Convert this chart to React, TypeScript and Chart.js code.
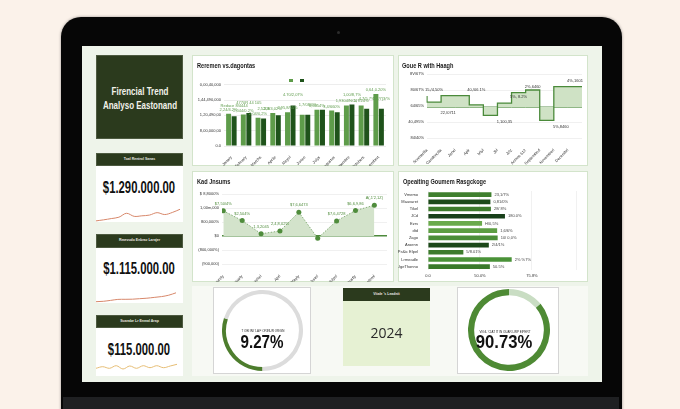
import React, { useEffect, useRef } from "react";
import { Chart, registerables } from "chart.js";

Chart.register(...registerables);

const FONT = "'Liberation Sans', Arial, sans-serif";
Chart.defaults.font.family = FONT;

// ---------- Revenue vs expenses (grouped bars)
const barCats = ["Janary", "Febuary", "Marchs", "Aprile", "Mayol", "Junee", "Julys", "Augustus", "Septembre", "Octobers", "Novembert"];
const revenueVals = [2.11, 2.06, 1.85, 2.15, 2.21, 2.04, 2.37, 2.32, 2.65, 2.65, 3.4];
const expenseVals = [1.94, 2.15, 1.79, 2.0, 2.65, 2.04, 2.37, 2.21, 2.71, 2.43, 2.43];
const barYTicks = ["0.0", "8,00,000,00", "1,20,490,00", "1,44,490,000", "0,00,40,000"];
const revenueLabels = ["2,24/4.2%", "2,044/0.2%", "2,04/0,2%", "2,3/4,02%", "2,95,8/55%", "", "0,4054%", "3,4/660%", "1,9304/NC4", "1,7/24%", "0,64,0.20%"];
const expenseLabels = ["Reduce 8/4444", "4770R 44 105", "2,5208", "", "4.70/2,07%", "1,7/08/0%", "", "", "1,00/8,7%", "4,7/5,7%", "1,7/7(3/%"];

// ---------- Step chart
const stepCats = ["Sonmarilla", "Candenolla", "Jancl", "Aplr", "Mlyl", "Jlrl", "Jclz", "Acmns 612", "Septembed", "Novemberl", "Decembrl", ""];
const stepVals = [2.63, 2.24, 2.65, 2.65, 2.07, 1.41, 2.18, 2.84, 3.0, 1.1, 3.21, 3.21];
const stepBase = [1.93, 1.93, 1.93, 1.93, 1.93, 1.93, 1.93, 1.93, 1.93, 1.93, 1.93, 1.93];
const stepYTicks = ["84/40%", "40,495%", "64/65%", "80/67%", "8V/67%"];
const stepLabels = ["15,/4,50%", "22,/0711", "", "40,/06 1%", "", "1,100,35", "5%, 8.2%", "2%,6460", "", "5%,8460", "4%,1601", ""];
const stepLabelBelow = [false, true, false, false, false, true, false, false, false, true, false, false];

// ---------- Area chart
const areaCats = ["Janurely", "Februarly", "Marchel", "Aprl", "Mayly", "Junel", "Julyel", "Augustly", "Septeml"];
const areaVals = [1.8, 1.1, 0.16, 0.36, 1.7, -0.16, 1.08, 1.82, 2.2];
const areaYTicks = ["(900,000)", "(800,000%)", "$0", "800,000%", "1,00m,000", "$ 8,8000%"];
const areaLabels = ["$7,50/4%", "$2,504%", "1,3,2045", "2,4,8,02%", "$7,6,6473", "", "$7,6,4728", "$6,6,9,86", "A(,1'2,1Z)"];

// ---------- Horizontal bars
const hbarCats = ["Vmemo", "Mauvaret", "Tikel", "JCd", "Ezrs", "dtd", "Zago", "Aroenn", "Ps&ic Elpel", "Lrmeadle", "UgeThonno"];
const hbarVals = [1.22, 1.2, 1.21, 1.48, 1.04, 1.33, 1.34, 1.17, 0.68, 1.61, 1.19];
const hbarLabels = ["23,1/7%", "0,81/0%", "28/ 8%", "180.0%", "H/0,5%", "1,6/6%", "10/ 0,0%", "2/4/1%", "5/8.01%", "2% %7%", "50.5%"];
const hbarXTicks = ["0.0", "50.0%", "75.8%"];
const hbarColors = ["#3f7f2e", "#1d4a1a", "#3d7b2c", "#18401a", "#6aaa4c", "#5d9e43", "#4b8e38", "#1c4819", "#3d7c2d", "#4a9238", "#3a7a2b"];

// ---------- Sparklines
const spark1 = [10, 11, 12.2, 13.5, 17.2, 14.3, 14.8, 15.5, 17.8, 16, 18, 21];
const spark2 = [3.3, 3.7, 4.6, 5.6, 5.7, 5.8, 6.3, 6.8, 7.6, 8.4, 9.8, 12.2];
const spark3 = [3.7, 5.3, 3.7, 6.3, 3, 6, 3.7, 6.3, 4.3, 6.3, 4.3, 6, 7.7];

// ---------- Gauges
const gaugeA = [30, 70];
const gaugeB = [14, 86];

const fitW = (w: number) => (s: any) => { s.width = w; s.paddingTop = 0; s.paddingBottom = 0; s.paddingLeft = 0; s.paddingRight = 0; };
const fitH = (h: number) => (s: any) => { s.height = h; s.paddingTop = 0; s.paddingBottom = 0; s.paddingLeft = 0; s.paddingRight = 0; };
const tickFont = { size: 4, family: FONT };
const baseOpts = { responsive: false, animation: false as const, devicePixelRatio: 1, events: [] as any[] };
const noPlugins = { legend: { display: false }, tooltip: { enabled: false } };

function ChartBox({ x, y, w, h, make }: { x: number; y: number; w: number; h: number; make: () => any }) {
  const ref = useRef<HTMLCanvasElement>(null);
  useEffect(() => {
    const chart = new Chart(ref.current as HTMLCanvasElement, make());
    return () => chart.destroy();
  }, []);
  return <canvas ref={ref} width={w} height={h} style={{ position: "absolute", left: x, top: y, width: w, height: h }} />;
}

function T({ x, y, size, bold = false, color = "#111", sx = 1, sy = 1, align = "center", family = FONT, children }: any) {
  const style: any = {
    position: "absolute", left: x, top: y, fontSize: size, fontWeight: bold ? 700 : 400, color,
    fontFamily: family, lineHeight: 1, whiteSpace: "nowrap",
  };
  if (align === "center") {
    style.transform = `translate(-50%,-50%) scale(${sx},${sy})`;
  } else {
    style.transform = `translateY(-50%) scale(${sx},${sy})`;
    style.transformOrigin = "left center";
  }
  return <div style={style}>{children}</div>;
}

function Box({ x, y, w, h, bg, border, children }: any) {
  return (
    <div style={{ position: "absolute", left: x, top: y, width: w, height: h, background: bg, border: border || "none", boxSizing: "border-box" }}>
      {children}
    </div>
  );
}

const barChart = () => ({
  type: "bar",
  data: {
    labels: barCats,
    datasets: [
      { data: revenueVals, backgroundColor: "#5e9c4a", categoryPercentage: 0.75, barPercentage: 0.9 },
      { data: expenseVals, backgroundColor: "#1f531b", categoryPercentage: 0.75, barPercentage: 0.9 },
    ],
  },
  options: {
    ...baseOpts,
    layout: { padding: { top: 29.7, right: 8, left: 0, bottom: 0 } },
    plugins: noPlugins,
    scales: {
      x: {
        grid: { display: false }, border: { display: false },
        ticks: { font: tickFont, color: "#333", minRotation: 45, maxRotation: 45, padding: 1, autoSkip: false },
        afterFit: fitH(20),
      },
      y: {
        min: 0, max: 4,
        ticks: { stepSize: 1, font: tickFont, color: "#333", padding: 3, callback: (v: number) => barYTicks[v] ?? "" },
        grid: { color: "#e8e8e8", drawTicks: false, lineWidth: 0.8 }, border: { display: false },
        afterFit: fitW(32),
      },
    },
  },
  plugins: [{
    id: "barLbl",
    afterDatasetsDraw(chart: any) {
      const ctx = chart.ctx;
      ctx.save();
      ctx.font = `4px ${FONT}`;
      ctx.fillStyle = "#5f9c4d";
      ctx.textAlign = "center";
      ctx.textBaseline = "bottom";
      [revenueLabels, expenseLabels].forEach((arr, di) => {
        chart.getDatasetMeta(di).data.forEach((el: any, i: number) => {
          if (arr[i]) ctx.fillText(arr[i], el.x, el.y - 2 - di * 6);
        });
      });
      ctx.restore();
    },
  }],
});

const stepChart = () => ({
  type: "line",
  data: {
    labels: stepCats,
    datasets: [
      { data: stepVals, stepped: "after", borderColor: "#4a8a3a", borderWidth: 1.3, pointRadius: 0, fill: "+1", backgroundColor: "#cfe2c5" },
      { data: stepBase, borderColor: "#4a8a3a", borderWidth: 1, pointRadius: 0, fill: false },
    ],
  },
  options: {
    ...baseOpts,
    layout: { padding: { top: 19, right: 6, left: 0, bottom: 0 } },
    plugins: noPlugins,
    scales: {
      x: {
        grid: { display: false }, border: { display: false },
        ticks: { font: tickFont, color: "#333", minRotation: 45, maxRotation: 45, padding: 2, autoSkip: false },
        afterFit: fitH(28),
      },
      y: {
        min: 0, max: 4,
        ticks: { stepSize: 1, font: tickFont, color: "#333", padding: 3, callback: (v: number) => stepYTicks[v] ?? "" },
        grid: { color: "#ececec", drawTicks: false, lineWidth: 0.8 }, border: { display: false },
        afterFit: fitW(29),
      },
    },
  },
  plugins: [{
    id: "stepLbl",
    afterDatasetsDraw(chart: any) {
      const ctx = chart.ctx;
      const pts = chart.getDatasetMeta(0).data;
      const base = chart.getDatasetMeta(1).data;
      ctx.save();
      ctx.font = `4px ${FONT}`;
      ctx.fillStyle = "#333";
      ctx.textAlign = "center";
      stepLabels.forEach((s, i) => {
        if (!s || i + 1 >= pts.length) return;
        const mx = (pts[i].x + pts[i + 1].x) / 2;
        if (stepLabelBelow[i]) {
          ctx.textBaseline = "top";
          ctx.fillText(s, mx, Math.max(pts[i].y, base[i].y) + 4);
        } else {
          ctx.textBaseline = "bottom";
          ctx.fillText(s, mx, Math.min(pts[i].y, base[i].y) - 4);
        }
      });
      ctx.restore();
    },
  }],
});

const areaChart = () => ({
  type: "line",
  data: {
    datasets: [{
      data: areaVals.map((v, i) => ({ x: i, y: v })),
      borderColor: "#6f9f5f", borderWidth: 0.8, borderDash: [1.5, 1.5],
      fill: "origin", backgroundColor: "#d3e3cb",
      pointRadius: 2.5, pointBackgroundColor: "#4f8c3c", pointBorderWidth: 0, tension: 0,
    }],
  },
  options: {
    ...baseOpts,
    layout: { padding: { top: 23, right: 7, left: 0, bottom: 0 } },
    plugins: noPlugins,
    scales: {
      x: {
        type: "linear", min: -0.07, max: 8.67,
        grid: { display: false }, border: { display: false },
        afterBuildTicks: (s: any) => { s.ticks = areaCats.map((_, i) => ({ value: i })); },
        ticks: { font: tickFont, color: "#333", minRotation: 45, maxRotation: 45, padding: 2, autoSkip: false, callback: (v: number) => areaCats[v] ?? "" },
        afterFit: fitH(18),
      },
      y: {
        min: -2, max: 3,
        ticks: { stepSize: 1, font: tickFont, color: "#333", padding: 3, callback: (v: number) => areaYTicks[v + 2] ?? "" },
        grid: {
          color: (c: any) => (c.tick && c.tick.value === 0 ? "#4d8a3c" : "#ececec"),
          lineWidth: (c: any) => (c.tick && c.tick.value === 0 ? 1.5 : 0.8),
          drawTicks: false,
        },
        border: { display: false },
        afterFit: fitW(30),
      },
    },
  },
  plugins: [{
    id: "areaLbl",
    afterDatasetsDraw(chart: any) {
      const ctx = chart.ctx;
      ctx.save();
      ctx.font = `4px ${FONT}`;
      ctx.fillStyle = "#4f8c3c";
      ctx.textAlign = "center";
      ctx.textBaseline = "bottom";
      chart.getDatasetMeta(0).data.forEach((el: any, i: number) => {
        if (areaLabels[i]) ctx.fillText(areaLabels[i], el.x, el.y - 5);
      });
      ctx.restore();
    },
  }],
});

const hbarChart = () => ({
  type: "bar",
  data: {
    labels: hbarCats,
    datasets: [{ data: hbarVals, backgroundColor: hbarColors, categoryPercentage: 0.7, barPercentage: 0.92 }],
  },
  options: {
    ...baseOpts,
    indexAxis: "y",
    layout: { padding: { top: 20, right: 11.3, left: 0, bottom: 0 } },
    plugins: noPlugins,
    scales: {
      x: {
        min: 0, max: 2.86,
        ticks: { stepSize: 1, font: tickFont, color: "#333", padding: 3, callback: (v: number) => hbarXTicks[v] ?? "" },
        grid: { color: "#eeeeee", drawTicks: false, lineWidth: 0.8 }, border: { display: false },
        afterFit: fitH(11.7),
      },
      y: {
        grid: { display: false }, border: { display: false },
        ticks: { font: tickFont, color: "#333", padding: 2, autoSkip: false },
        afterFit: fitW(30),
      },
    },
  },
  plugins: [{
    id: "hbarLbl",
    afterDatasetsDraw(chart: any) {
      const ctx = chart.ctx;
      ctx.save();
      ctx.font = `4px ${FONT}`;
      ctx.fillStyle = "#444";
      ctx.textAlign = "left";
      ctx.textBaseline = "middle";
      chart.getDatasetMeta(0).data.forEach((el: any, i: number) => {
        ctx.fillText(hbarLabels[i], el.x + 3, el.y);
      });
      ctx.restore();
    },
  }],
});

const sparkChart = (vals: number[], color: string, min: number, max: number) => () => ({
  type: "line",
  data: { labels: vals.map((_, i) => String(i)), datasets: [{ data: vals, borderColor: color, borderWidth: 1, pointRadius: 0, tension: 0.35, fill: false }] },
  options: { ...baseOpts, plugins: noPlugins, layout: { padding: 0 }, scales: { x: { display: false }, y: { display: false, min, max } } },
});

const gaugeChart = (vals: number[], colors: string[], cutout: string, rotation: number) => () => ({
  type: "doughnut",
  data: { datasets: [{ data: vals, backgroundColor: colors, borderWidth: 0, hoverOffset: 0 }] },
  options: { ...baseOpts, plugins: noPlugins, cutout, rotation, layout: { padding: 0 } },
});

const DARK = "#2b3a1d";

export default function App() {
  return (
    <div style={{ position: "fixed", left: 0, top: 0, width: 680, height: 409, overflow: "hidden", background: "#fbf2ea", fontFamily: FONT }}>
      {/* laptop */}
      <div style={{ position: "absolute", left: 61, top: 17, width: 561, height: 400, background: "#060606", borderRadius: "20px 20px 0 0", boxShadow: "0 0 3px rgba(0,0,0,0.4)" }} />
      <div style={{ position: "absolute", left: 337, top: 31, width: 3, height: 3, borderRadius: 2, background: "#2c2c2c" }} />
      <div style={{ position: "absolute", left: 63, top: 397, width: 556, height: 12, background: "#1f2022" }} />
      {/* screen */}
      <Box x={82} y={46} w={520} h={336} bg="#eef4ea" />

      {/* left column */}
      <Box x={96} y={55} w={87} h={84} bg={DARK} border="1px solid #4d5a40" />
      <T x={139.5} y={90.5} size={10.5} bold color="#f2f2ea" sx={0.76}>Firencial Trend</T>
      <T x={139.5} y={104.5} size={10.5} bold color="#f2f2ea" sx={0.76}>Analyso Eastonand</T>

      <Box x={96} y={153} w={87} h={13} bg={DARK} border="1px solid #4d5a40" />
      <T x={139.5} y={159.5} size={3.5} bold color="#e8e8e0">Toal Rentrol Sanas</T>
      <Box x={96} y={166} w={87} h={56} bg="#ffffff" />
      <T x={139} y={187.3} size={17} bold color="#111" sx={0.665}>$1.290.000.00</T>

      <Box x={96} y={234} w={87} h={14} bg={DARK} border="1px solid #4d5a40" />
      <T x={139.5} y={241} size={3.5} bold color="#e8e8e0">Rmevudo Enbraz Larajer</T>
      <Box x={96} y={248} w={87} h={55} bg="#ffffff" />
      <T x={139} y={268.3} size={17} bold color="#111" sx={0.665}>$1.115.000.00</T>

      <Box x={96} y={315} w={87} h={13} bg={DARK} border="1px solid #4d5a40" />
      <T x={139.5} y={321.5} size={3.5} bold color="#e8e8e0">Suarabe Lr Enmal Arap</T>
      <Box x={96} y={328} w={87} h={48} bg="#ffffff" />
      <T x={139} y={349} size={17} bold color="#111" sx={0.665}>$115.000.00</T>

      <ChartBox x={96} y={204} w={84} h={19} make={sparkChart(spark1, "#d7876a", 8, 26)} />
      <ChartBox x={96} y={290} w={80} h={15} make={sparkChart(spark2, "#d7876a", 0, 15)} />
      <ChartBox x={96} y={360} w={81} h={12} make={sparkChart(spark3, "#e6bd74", 0, 12)} />

      {/* panels */}
      <Box x={192} y={55} w={202} h={111} bg="#ffffff" border="1px solid #d3e4cb" />
      <Box x={398} y={55} w={190} h={111} bg="#ffffff" border="1px solid #d3e4cb" />
      <Box x={192} y={171} w={202} h={111} bg="#ffffff" border="1px solid #d3e4cb" />
      <Box x={398} y={171} w={190} h={111} bg="#ffffff" border="1px solid #d3e4cb" />

      <ChartBox x={192} y={55} w={202} h={111} make={barChart} />
      <ChartBox x={398} y={55} w={190} h={111} make={stepChart} />
      <ChartBox x={192} y={171} w={202} h={111} make={areaChart} />
      <ChartBox x={398} y={171} w={190} h={111} make={hbarChart} />

      <T x={197} y={65} size={7} bold color="#1a1a1a" sx={0.8} align="left">Reremen vs.dagontas</T>
      <T x={402} y={65} size={7} bold color="#1a1a1a" sx={0.8} align="left">Goue R with Haagh</T>
      <T x={197} y={181.3} size={7} bold color="#1a1a1a" sx={0.8} align="left">Kad Jnsums</T>
      <T x={403} y={181.3} size={7} bold color="#1a1a1a" sx={0.8} align="left">Opeaiting Goumem Rasgckoge</T>

      <div style={{ position: "absolute", left: 289, top: 78.5, width: 4, height: 3, background: "#5e9c4a" }} />
      <div style={{ position: "absolute", left: 300, top: 78.5, width: 4, height: 3, background: "#1f531b" }} />

      {/* bottom row */}
      <Box x={192} y={286} w={396} h={90} bg="#f7f9f4" />
      <Box x={213} y={287} w={98} h={87} bg="#ffffff" border="1px solid #d5d5d5" />
      <Box x={457} y={287} w={102} h={87} bg="#ffffff" border="1px solid #d5d5d5" />
      <ChartBox x={222} y={290} w={81} h={81} make={gaugeChart(gaugeA, ["#4d7d2d", "#dcdcdc"], "90%", 180)} />
      <ChartBox x={468} y={289} w={82} h={82} make={gaugeChart(gaugeB, ["#c9ddc3", "#4e8a34"], "85%", 0)} />
      <T x={263} y={332.3} size={3.5} color="#222" sx={0.85}>T OBI INI 'LA F ORINUR ORGIN</T>
      <T x={262} y={341.7} size={18.5} bold color="#111" sx={0.82}>9.27%</T>
      <T x={505} y={332.6} size={3.5} color="#222" sx={0.85}>VIGIL 'CIAT IT IN OUAR LIRP EIPERT</T>
      <T x={504} y={341.7} size={18.5} bold color="#111" sx={0.9}>90.73%</T>

      <Box x={343} y={288} w={87} h={13} bg={DARK} />
      <T x={386.5} y={294.5} size={3.5} bold color="#e8e8e0">Vitale 's Leadnit</T>
      <Box x={343} y={301} w={87} h={65} bg="#e6f1d3" />
      <T x={386.5} y={333} size={14} color="#2a2a2a" family="'Open Sans', 'Noto Sans', sans-serif">2024</T>
    </div>
  );
}
